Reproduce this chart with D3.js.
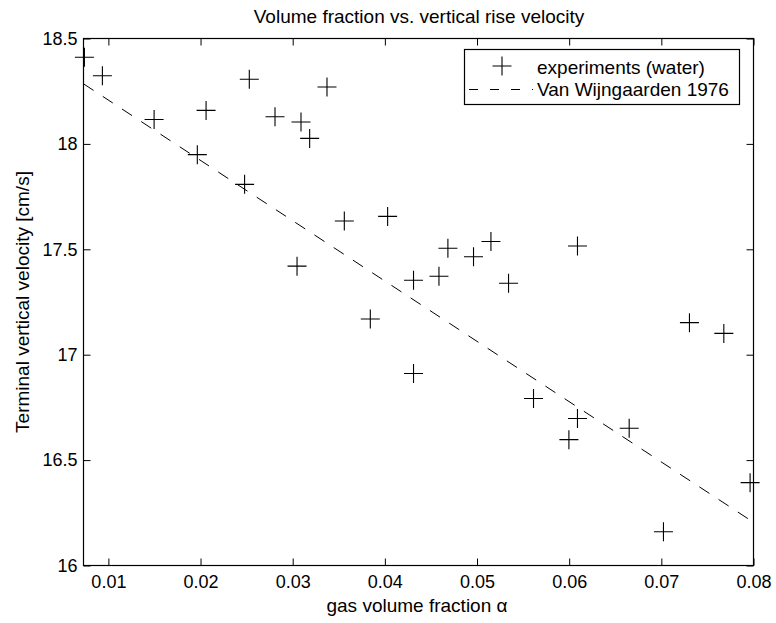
<!DOCTYPE html>
<html>
<head>
<meta charset="utf-8">
<script src="https://cdn.jsdelivr.net/npm/d3@7"></script>
<style>
  body { margin: 0; background: #fff; }
  text { font-family: "Liberation Sans", Arial, sans-serif; fill: #000; }
</style>
</head>
<body>
<svg width="776" height="623"></svg>
<script>
// measured points (gas volume fraction, terminal velocity cm/s)
var alpha = [0.0074, 0.00935, 0.01496, 0.0206, 0.02529, 0.01965, 0.02478, 0.02808, 0.0309, 0.03184,
  0.03047, 0.03372, 0.0356, 0.0403, 0.04684, 0.04962, 0.05151, 0.04311, 0.04587, 0.05342,
  0.03842, 0.04311, 0.05613, 0.0609, 0.05997, 0.06651, 0.07305, 0.07678, 0.07963, 0.07023, 0.0609];
var velocity = [18.411, 18.323, 18.116, 18.159, 18.307, 17.949, 17.808, 18.129, 18.104, 18.026,
  17.420, 18.270, 17.634, 17.656, 17.505, 17.465, 17.537, 17.353, 17.372, 17.339,
  17.169, 16.911, 16.792, 16.697, 16.597, 16.651, 17.152, 17.101, 16.393, 16.160, 17.516];

// Van Wijngaarden 1976 line (end points)
var modelAlpha = [0.0073, 0.08];
var modelVel = [18.285, 16.205];

var xTicks = [0.01, 0.02, 0.03, 0.04, 0.05, 0.06, 0.07, 0.08];
var yTicks = [16, 16.5, 17, 17.5, 18, 18.5];

var margin = {left: 83.5, top: 38.5, right: 753.5, bottom: 565.5};

var svg = d3.select("svg");

var x = d3.scaleLinear().domain([0.0073, 0.08]).range([margin.left, margin.right]);
var y = d3.scaleLinear().domain([16, 18.5]).range([margin.bottom, margin.top]);

// axes with inward ticks, on all four sides
var fs = "18px";
var gx = svg.append("g").attr("transform", "translate(0," + margin.bottom + ")")
  .call(d3.axisBottom(x).tickValues(xTicks).tickSize(-7).tickPadding(10).tickFormat(d3.format(".2f")));
var gxt = svg.append("g").attr("transform", "translate(0," + margin.top + ")")
  .call(d3.axisTop(x).tickValues(xTicks).tickSize(-7).tickFormat(""));
var gy = svg.append("g").attr("transform", "translate(" + margin.left + ",0)")
  .call(d3.axisLeft(y).tickValues(yTicks).tickSize(-7).tickPadding(6).tickFormat(d3.format("")));
var gyr = svg.append("g").attr("transform", "translate(" + margin.right + ",0)")
  .call(d3.axisRight(y).tickValues(yTicks).tickSize(-7).tickFormat(""));

[gx, gxt, gy, gyr].forEach(function(g) {
  g.select(".domain").remove();
  g.selectAll("line").attr("stroke", "#000");
  g.selectAll("text").style("font-size", fs).style("font-family", "Liberation Sans, Arial, sans-serif");
});

svg.append("rect")
  .attr("x", margin.left).attr("y", margin.top)
  .attr("width", margin.right - margin.left).attr("height", margin.bottom - margin.top)
  .attr("fill", "none").attr("stroke", "#000").attr("stroke-width", 1.2);

// dashed model line
var line = d3.line().x(function(d) { return x(d[0]); }).y(function(d) { return y(d[1]); });
svg.append("path")
  .datum(d3.zip(modelAlpha, modelVel))
  .attr("d", line)
  .attr("fill", "none").attr("stroke", "#000").attr("stroke-width", 1)
  .attr("stroke-dasharray", "12,11");

// plus markers
var s = 9.5;
function plus(cx, cy) {
  return "M" + (cx - s) + "," + cy + "H" + (cx + s) + "M" + cx + "," + (cy - s) + "V" + (cy + s);
}
svg.append("g").selectAll("path")
  .data(d3.zip(alpha, velocity))
  .enter().append("path")
  .attr("d", function(d) { return plus(x(d[0]), y(d[1])); })
  .attr("stroke", "#000").attr("stroke-width", 1.1).attr("fill", "none");

// legend
var lg = svg.append("g");
lg.append("rect").attr("x", 464.5).attr("y", 49.5).attr("width", 275).attr("height", 55)
  .attr("fill", "#fff").attr("stroke", "#000").attr("stroke-width", 1.2);
lg.append("path").attr("d", plus(502, 66)).attr("stroke", "#000").attr("stroke-width", 1.1);
lg.append("line").attr("x1", 469).attr("x2", 533).attr("y1", 89.5).attr("y2", 89.5)
  .attr("stroke", "#000").attr("stroke-dasharray", "9,12");
lg.append("text").attr("x", 537).attr("y", 74).style("font-size", "19px").text("experiments (water)");
lg.append("text").attr("x", 537).attr("y", 95.5).style("font-size", "19px").text("Van Wijngaarden 1976");

// titles
svg.append("text").attr("x", 419).attr("y", 23).attr("text-anchor", "middle")
  .style("font-size", "19px").text("Volume fraction vs. vertical rise velocity");
svg.append("text").attr("x", 417).attr("y", 612).attr("text-anchor", "middle")
  .style("font-size", "19px").text("gas volume fraction α");
svg.append("text").attr("transform", "translate(28.5,302) rotate(-90)").attr("text-anchor", "middle")
  .style("font-size", "19px").text("Terminal vertical velocity [cm/s]");
</script>
</body>
</html>
